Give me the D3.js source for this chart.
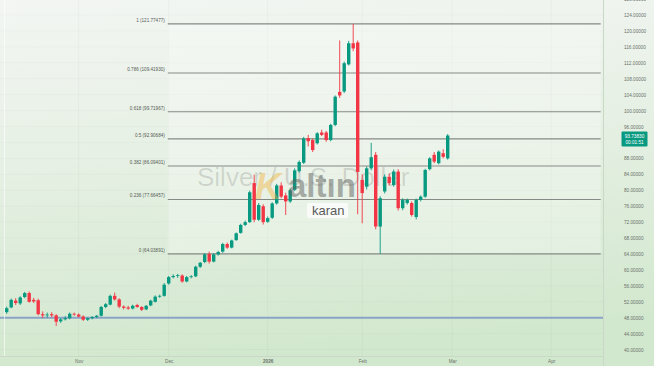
<!DOCTYPE html>
<html>
<head>
<meta charset="utf-8">
<script src="https://cdn.jsdelivr.net/npm/d3@7"></script>
<style>
  html, body { margin: 0; padding: 0; background: #e4efe2; }
  svg { display: block; font-family: "Liberation Sans", Arial, sans-serif; }
</style>
</head>
<body>
<div id="chart"></div>
<script>
// daily candles, Oct 10 2025 .. Feb 27 2026 (trading days only)
const opens = [49.4, 50.6, 52.3, 51.6, 53.2, 54.2, 52.5, 52.4, 48.9, 48.6,
  48.9, 48.6, 47.1, 47.6, 47.9, 49.0, 48.8, 48.3, 47.5, 47.9,
  48.2, 48.5, 50.7, 51.3, 53.5, 52.6, 50.8, 50.6, 50.3, 51.2,
  50.7, 50.1, 51.1, 52.0, 53.3, 53.5, 56.6, 58.2, 58.5, 58.6,
  57.1, 58.3, 58.4, 60.8, 62.0, 64.0, 62.1, 63.9, 64.6, 66.5,
  65.6, 67.5, 69.3, 71.3, 72.0, 81.8, 72.6, 76.0, 72.1, 73.1,
  76.7, 81.2, 78.7, 77.2, 80.1, 84.8, 86.9, 93.1, 92.6, 91.8,
  94.5, 94.5, 92.6, 96.4, 104.7, 104.8, 111.6, 116.9, 117.1, 82.6,
  80.9, 85.5, 88.9, 70.9, 79.7, 83.4, 81.3, 84.7, 75.5, 76.8,
  76.8, 73.3, 77.6, 78.4, 85.3, 88.9, 86.8, 89.3, 88.0];
const highs = [50.8, 52.8, 52.9, 53.4, 54.5, 54.6, 53.0, 52.8, 49.6, 49.3,
  49.4, 48.9, 47.9, 48.4, 49.3, 49.3, 49.1, 48.6, 48.1, 48.4,
  48.7, 51.0, 51.7, 53.8, 54.3, 52.9, 51.1, 51.0, 51.3, 51.5,
  50.9, 51.2, 52.5, 53.6, 53.8, 56.7, 58.5, 58.9, 59.0, 58.9,
  58.5, 58.7, 61.1, 62.0, 64.2, 64.6, 64.2, 64.8, 66.8, 66.9,
  67.6, 69.4, 71.6, 72.4, 79.9, 83.9, 76.8, 76.5, 73.4, 77.0,
  81.6, 82.0, 79.4, 80.4, 85.5, 87.5, 93.4, 93.9, 93.0, 94.6,
  95.2, 94.9, 96.7, 103.8, 117.6, 112.3, 117.5, 121.77, 117.6, 84.0,
  86.0, 91.9, 89.6, 78.5, 84.0, 84.2, 85.2, 85.3, 78.0, 77.9,
  77.2, 77.9, 78.7, 85.4, 88.3, 89.6, 90.0, 90.3, 94.1];
const lows = [49.0, 50.4, 51.2, 51.2, 52.9, 51.8, 51.7, 48.6, 47.9, 48.0,
  48.1, 45.96, 46.7, 47.3, 47.6, 48.5, 48.1, 47.2, 47.2, 47.6,
  47.9, 48.3, 50.4, 51.1, 52.3, 50.4, 50.1, 50.0, 50.1, 50.5,
  49.7, 49.9, 50.9, 51.8, 53.0, 53.3, 56.3, 57.9, 58.0, 56.8,
  56.9, 57.9, 58.2, 60.5, 61.7, 61.6, 61.9, 63.6, 64.3, 65.3,
  65.4, 67.3, 69.1, 71.0, 71.8, 72.0, 72.3, 71.4, 71.8, 72.8,
  76.4, 78.0, 73.8, 76.8, 79.8, 84.4, 86.6, 91.0, 89.6, 91.5,
  93.6, 92.2, 92.3, 96.1, 103.2, 104.4, 111.3, 114.9, 74.0, 71.7,
  80.2, 85.0, 70.2, 64.04, 79.2, 81.2, 80.9, 74.9, 75.0, 76.4,
  73.4, 72.7, 77.2, 78.1, 85.0, 86.8, 86.5, 88.0, 87.7];
const closes = [50.4, 52.5, 51.7, 53.1, 54.2, 52.0, 52.1, 48.9, 48.6, 48.8,
  48.6, 47.0, 47.6, 47.9, 49.0, 48.8, 48.3, 47.5, 47.9, 48.2,
  48.5, 50.7, 51.4, 53.5, 52.6, 50.8, 50.5, 50.3, 51.0, 50.7,
  50.0, 51.0, 52.3, 53.3, 53.5, 56.3, 58.2, 58.5, 58.7, 57.1,
  58.2, 58.4, 60.8, 61.8, 63.9, 62.1, 63.9, 64.5, 66.5, 65.6,
  67.4, 69.2, 71.3, 72.0, 79.5, 72.6, 76.3, 72.0, 73.0, 76.7,
  81.2, 78.4, 77.2, 80.0, 85.0, 87.1, 93.0, 92.3, 90.1, 94.3,
  93.9, 92.6, 96.4, 103.5, 103.8, 111.9, 116.9, 115.6, 84.6, 79.3,
  85.5, 88.3, 70.9, 78.0, 83.4, 81.8, 84.7, 75.5, 77.6, 77.6,
  73.8, 77.6, 78.4, 85.1, 88.0, 87.2, 89.7, 88.4, 93.7383];

const priceTicks = [40, 44, 48, 52, 56, 60, 64, 68, 72, 76, 80, 84, 88, 92, 96,
  100, 104, 108, 112, 116, 120, 124, 128];
const timeTickIndex = [16, 36, 58, 79, 99, 121];
const timeTickLabels = ['Nov', 'Dec', '2026', 'Feb', 'Mar', 'Apr'];

const fibRatios = ['1', '0.786', '0.618', '0.5', '0.382', '0.236', '0'];
const fibPrices = [121.77477, 109.41930, 99.71967, 92.90684, 86.09401, 77.66457, 64.03891];
const fibFromIndex = 35.8;
const fibToIndex = 132;

const hLinePrice = 48;
const lastPriceText = '93.73830';
const countdownText = '00:01:51';

// layout
const W = 654, H = 366;
const plotRight = 603, plotBottom = 356;

const x = d3.scaleLinear().domain([0, 132]).range([6.7, 600.7]);
const y = d3.scaleLinear().domain([38.4, 127.76]).range([plotBottom, 0]);

const candles = opens.map((o, i) => ({ i: i, o: o, h: highs[i], l: lows[i], c: closes[i] }));

const svg = d3.select('#chart').append('svg')
  .attr('width', W).attr('height', H);

const defs = svg.append('defs');
const grad = defs.append('linearGradient').attr('id', 'bg')
  .attr('x1', 0).attr('y1', 0).attr('x2', 0.15).attr('y2', 1);
grad.append('stop').attr('offset', '0%').attr('stop-color', '#f3f6f3');
grad.append('stop').attr('offset', '45%').attr('stop-color', '#e6f0e4');
grad.append('stop').attr('offset', '100%').attr('stop-color', '#d2e8ce');

defs.append('clipPath').attr('id', 'plotclip')
  .append('rect').attr('x', 0).attr('y', 0).attr('width', plotRight).attr('height', plotBottom);

svg.append('rect').attr('width', W).attr('height', H).attr('fill', 'url(#bg)');

const plot = svg.append('g').attr('clip-path', 'url(#plotclip)');

// faint grid
plot.selectAll('.vgrid').data(timeTickIndex).enter().append('line')
  .attr('x1', d => x(d)).attr('x2', d => x(d))
  .attr('y1', 0).attr('y2', plotBottom)
  .attr('stroke', '#000').attr('stroke-opacity', 0.03);
plot.selectAll('.hgrid').data(priceTicks).enter().append('line')
  .attr('x1', 0).attr('x2', plotRight)
  .attr('y1', d => y(d)).attr('y2', d => y(d))
  .attr('stroke', '#000').attr('stroke-opacity', 0.025);

// fib retracement box
plot.append('rect')
  .attr('x', x(fibFromIndex))
  .attr('y', y(fibPrices[0]))
  .attr('width', x(fibToIndex) - x(fibFromIndex))
  .attr('height', y(fibPrices[fibPrices.length - 1]) - y(fibPrices[0]))
  .attr('fill', '#ffffff').attr('fill-opacity', 0.28);

plot.selectAll('.fib').data(fibPrices).enter().append('line')
  .attr('x1', x(fibFromIndex)).attr('x2', x(fibToIndex))
  .attr('y1', d => y(d)).attr('y2', d => y(d))
  .attr('stroke', '#858a85').attr('stroke-width', 1.1);

plot.selectAll('.fibLabel').data(fibPrices).enter().append('text')
  .attr('x', x(fibFromIndex) - 3)
  .attr('y', d => y(d) - 2.2)
  .attr('text-anchor', 'end')
  .attr('font-size', 4.6)
  .attr('fill', '#555a55')
  .text((d, i) => fibRatios[i] + ' (' + d.toFixed(5) + ')');

// horizontal line
plot.append('line')
  .attr('x1', 0).attr('x2', plotRight)
  .attr('y1', y(hLinePrice)).attr('y2', y(hLinePrice))
  .attr('stroke', '#8aa3c6').attr('stroke-width', 2);

// watermark text
plot.append('text')
  .attr('x', 197).attr('y', 186)
  .attr('font-size', 26)
  .attr('fill', '#000').attr('fill-opacity', 0.13)
  .text('Silver / U.S. Dollar');

// candles
const up = '#089981', down = '#f23645';
const bodyW = 3.4;
const cg = plot.selectAll('.candle').data(candles).enter().append('g');
cg.append('line')
  .attr('x1', d => x(d.i)).attr('x2', d => x(d.i))
  .attr('y1', d => y(d.h)).attr('y2', d => y(d.l))
  .attr('stroke', d => d.c >= d.o ? up : down).attr('stroke-width', 0.9);
cg.append('rect')
  .attr('x', d => x(d.i) - bodyW / 2)
  .attr('width', bodyW)
  .attr('y', d => y(Math.max(d.o, d.c)))
  .attr('height', d => Math.max(0.8, Math.abs(y(d.o) - y(d.c))))
  .attr('fill', d => d.c >= d.o ? up : down);

// logo watermark on top
const logo = plot.append('g');
logo.append('text')
  .attr('x', 255).attr('y', 199)
  .attr('font-size', 36).attr('font-weight', 'bold').attr('font-style', 'italic')
  .attr('fill', '#f0b43c').attr('fill-opacity', 0.45)
  .text('K');
logo.append('text')
  .attr('x', 288).attr('y', 197)
  .attr('font-size', 33).attr('font-weight', 'bold')
  .attr('fill', '#5f625f').attr('fill-opacity', 0.5)
  .text('altın');
logo.append('rect')
  .attr('x', 307).attr('y', 203).attr('width', 41).attr('height', 15).attr('rx', 2)
  .attr('fill', '#ffffff').attr('fill-opacity', 0.7);
logo.append('text')
  .attr('x', 312).attr('y', 215)
  .attr('font-size', 13)
  .attr('fill', '#5a5a5a')
  .text('karan');

// borders
svg.append('line').attr('x1', 4.5).attr('x2', 4.5).attr('y1', 0).attr('y2', plotBottom)
  .attr('stroke', '#ffffff').attr('stroke-opacity', 0.6);
svg.append('line').attr('x1', plotRight + 0.5).attr('x2', plotRight + 0.5).attr('y1', 0).attr('y2', H)
  .attr('stroke', '#c9d8c7');
svg.append('line').attr('x1', 0).attr('x2', plotRight).attr('y1', plotBottom + 0.5).attr('y2', plotBottom + 0.5)
  .attr('stroke', '#c9d8c7');

// right price axis
const yAxis = svg.append('g')
  .attr('transform', 'translate(' + plotRight + ',0)')
  .call(d3.axisRight(y).tickValues(priceTicks).tickSize(0).tickPadding(21)
    .tickFormat(d3.format('.5f')));
yAxis.select('.domain').remove();
yAxis.selectAll('text').attr('font-size', 4.7).attr('fill', '#6b716b')
  .attr('font-family', '"Liberation Sans", Arial, sans-serif');

// time axis
const xAxis = svg.append('g')
  .attr('transform', 'translate(0,' + plotBottom + ')')
  .call(d3.axisBottom(x).tickValues(timeTickIndex).tickSize(0).tickPadding(4)
    .tickFormat((d, i) => timeTickLabels[i]));
xAxis.select('.domain').remove();
xAxis.selectAll('text').attr('font-size', 4.7).attr('fill', '#6b716b')
  .attr('font-weight', d => d === 58 ? 'bold' : 'normal')
  .attr('font-family', '"Liberation Sans", Arial, sans-serif');

// last price label
const lastY = y(closes[closes.length - 1]);
const pl = svg.append('g');
pl.append('rect')
  .attr('x', 621.5).attr('y', lastY - 4).attr('width', 26).attr('height', 15).attr('rx', 1)
  .attr('fill', '#089981');
pl.append('text')
  .attr('x', 634.5).attr('y', lastY + 2)
  .attr('text-anchor', 'middle').attr('font-size', 4.7).attr('fill', '#fff')
  .text(lastPriceText);
pl.append('text')
  .attr('x', 634.5).attr('y', lastY + 8.5)
  .attr('text-anchor', 'middle').attr('font-size', 4.7).attr('fill', '#fff')
  .text(countdownText);
</script>
</body>
</html>
